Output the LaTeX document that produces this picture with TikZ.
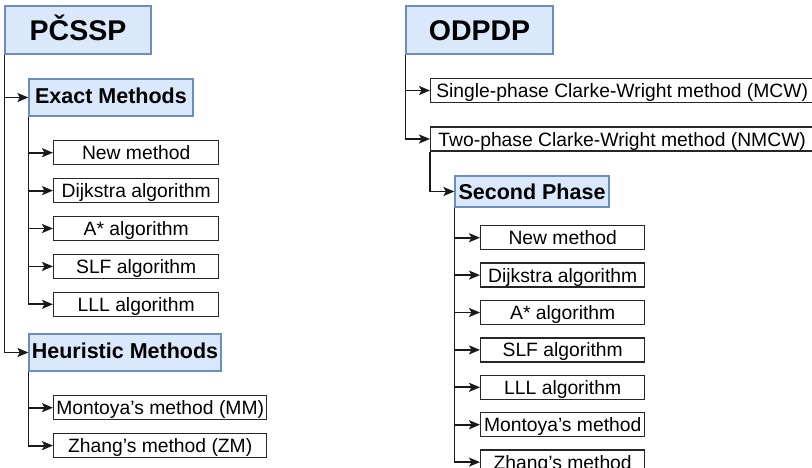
\documentclass[tikz,border=0pt]{standalone}
\usepackage{fontspec}
\setmainfont{Liberation Sans}
\usetikzlibrary{arrows.meta, positioning}
\definecolor{hdfill}{HTML}{DAE8FC}
\definecolor{hddraw}{HTML}{6C8EBF}
\tikzset{
    title/.style = {rectangle, draw=hddraw, fill=hdfill, line width=1.2pt, minimum width=146pt, minimum height=48pt, inner sep=1pt, text height=22pt, text depth=2pt, font=\fontsize{28.5}{30}\selectfont\bfseries},
    group/.style = {rectangle, draw=hddraw, fill=hdfill, line width=1.2pt, minimum height=37pt, inner sep=1pt, text height=16pt, text depth=5pt, font=\fontsize{21.5}{24}\selectfont\bfseries},
    leaf/.style = {rectangle, draw=black!85, fill=white, line width=1.4pt, minimum height=24pt, inner sep=1pt, text height=16pt, text depth=2pt, font=\fontsize{19.3}{22}\selectfont},
    lleaf/.style = {leaf, minimum width=165pt},
    rleaf/.style = {leaf, minimum width=164pt},
    link/.style = {line width=1.8pt, black!90, -{Stealth[length=11pt, width=9pt, inset=2.5pt]}}
}

\begin{document}
\begin{tikzpicture}[x=1pt, y=-1pt, node distance=12.5pt]
  \fill[white] (0,0) rectangle (812,467);
  \useasboundingbox (0,0) rectangle (812,467);

  % left tree
  \node[title] (pcssp) at (78,30) {PČSSP};
  \node[group, minimum width=164pt] (exact) at (111,97.5) {Exact Methods};
  \node[lleaf, anchor=north west] (enew) at (53,140) {New method};
  \node[lleaf, below=of enew] (edij) {Dijkstra algorithm};
  \node[lleaf, below=of edij] (eastar) {A* algorithm};
  \node[lleaf, below=of eastar] (eslf) {SLF algorithm};
  \node[lleaf, below=of eslf] (elll) {LLL algorithm};
  \node[group, minimum width=192pt] (heur) at (125,352.5) {Heuristic Methods};
  \node[leaf, minimum width=213pt, anchor=north west] (hmm) at (53,395) {Montoya’s method (MM)};
  \node[leaf, minimum width=213pt, below=of hmm] (hzm) {Zhang’s method (ZM)};

  \draw[link] (pcssp.south west) |- (exact.west);
  \draw[link] (pcssp.south west) |- (heur.west);
  \draw[link] (exact.south west) |- (enew.west);
  \draw[link] (exact.south west) |- (edij.west);
  \draw[link] (exact.south west) |- (eastar.west);
  \draw[link] (exact.south west) |- (eslf.west);
  \draw[link] (exact.south west) |- (elll.west);
  \draw[link] (heur.south west) |- (hmm.west);
  \draw[link] (heur.south west) |- (hzm.west);

  % right tree
  \node[title, minimum width=147pt] (odpdp) at (479.5,30) {ODPDP};
  \node[leaf, minimum width=383pt, anchor=west] (mcw) at (430,90.5) {Single-phase Clarke-Wright method (MCW)};
  \node[leaf, minimum width=383pt, anchor=west] (nmcw) at (430,139) {Two-phase Clarke-Wright method (NMCW)};
  \node[group, minimum width=154pt, minimum height=31pt, text depth=1pt] (second) at (532,191.5) {Second Phase};
  \node[rleaf, anchor=north west] (snew) at (480,225) {New method};
  \node[rleaf, below=12pt of snew] (sdij) {Dijkstra algorithm};
  \node[rleaf, below=12pt of sdij] (sastar) {A* algorithm};
  \node[rleaf, below=12pt of sastar] (sslf) {SLF algorithm};
  \node[rleaf, below=12pt of sslf] (slll) {LLL algorithm};
  \node[rleaf, below=12pt of slll] (smm) {Montoya’s method};
  \node[rleaf, below=12pt of smm] (szm) {Zhang’s method};

  \draw[link] (odpdp.south west) |- (mcw.west);
  \draw[link] (odpdp.south west) |- (nmcw.west);
  \draw[link] (nmcw.south west) |- (second.west);
  \draw[link] (second.south west) |- (snew.west);
  \draw[link] (second.south west) |- (sdij.west);
  \draw[link] (second.south west) |- (sastar.west);
  \draw[link] (second.south west) |- (sslf.west);
  \draw[link] (second.south west) |- (slll.west);
  \draw[link] (second.south west) |- (smm.west);
  \draw[link] (second.south west) |- (szm.west);
\end{tikzpicture}
\end{document}
